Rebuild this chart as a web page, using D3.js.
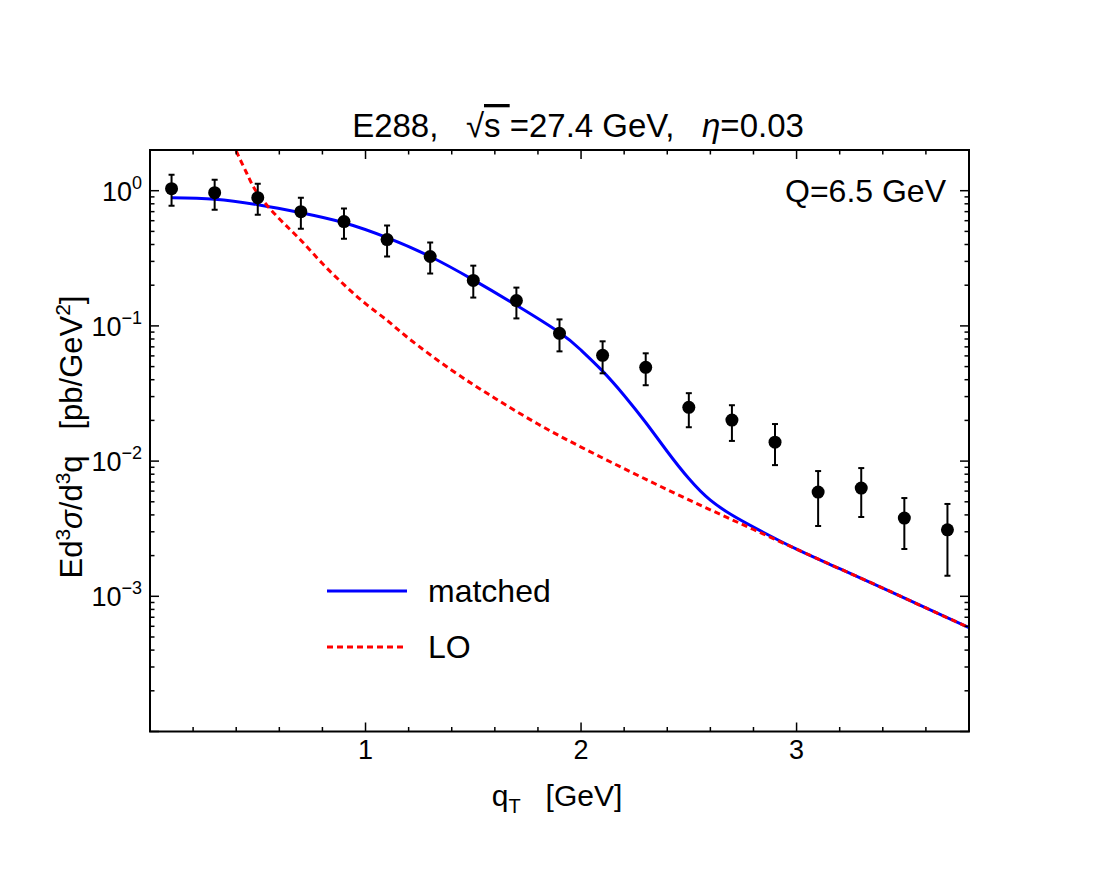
<!DOCTYPE html>
<html>
<head>
<meta charset="utf-8">
<script src="https://cdn.jsdelivr.net/npm/d3@7"></script>
<style>
  body { margin: 0; background: #fff; }
  svg text { font-family: "Liberation Sans", Arial, sans-serif; fill: #000; white-space: pre; }
</style>
</head>
<body>
<svg id="chart" width="1119" height="882"></svg>
<script>
// E288 data points
const qT = [0.1, 0.3, 0.5, 0.7, 0.9, 1.1, 1.3, 1.5, 1.7, 1.9, 2.1, 2.3, 2.5, 2.7, 2.9, 3.1, 3.3, 3.5, 3.7];
const sigma = [1.035, 0.967, 0.888, 0.700, 0.591, 0.435, 0.326, 0.217, 0.154, 0.0881, 0.0606, 0.0494, 0.0250, 0.0201, 0.0138, 0.0059, 0.00632, 0.00379, 0.0031];
const errHi = [1.31, 1.206, 1.126, 0.888, 0.737, 0.552, 0.413, 0.279, 0.192, 0.1117, 0.0769, 0.0627, 0.0318, 0.0259, 0.0188, 0.00844, 0.00888, 0.00533, 0.00482];
const errLo = [0.775, 0.724, 0.665, 0.524, 0.442, 0.326, 0.244, 0.162, 0.1136, 0.0648, 0.0446, 0.0364, 0.0178, 0.0141, 0.00934, 0.00331, 0.00386, 0.00224, 0.00142];

// matched curve
const matchedQ = [0.1, 0.3, 0.5, 0.7, 0.9, 1.1, 1.3, 1.5, 1.7, 1.9, 2.0, 2.1, 2.2, 2.3, 2.4, 2.5, 2.6, 2.7, 2.8, 3.0, 3.2, 3.4, 3.6, 3.8];
const matched = [0.888, 0.866, 0.788, 0.688, 0.580, 0.450, 0.326, 0.219, 0.142, 0.0893, 0.0662, 0.0463, 0.0306, 0.0193, 0.01178, 0.00743, 0.00514, 0.00399, 0.00325, 0.00223, 0.0016, 0.00115, 0.00082, 0.000587];

// LO curve
const loQ = [0.35, 0.4, 0.45, 0.5, 0.6, 0.7, 0.8, 0.9, 1.0, 1.1, 1.2, 1.4, 1.6, 1.8, 2.0, 2.2, 2.4, 2.6, 2.8, 3.0, 3.2, 3.4, 3.6, 3.8];
const lo = [3.18, 1.97, 1.335, 0.95, 0.62, 0.43, 0.289, 0.202, 0.146, 0.110, 0.0809, 0.047, 0.0292, 0.0188, 0.0127, 0.00879, 0.00615, 0.00436, 0.00312, 0.00223, 0.0016, 0.00115, 0.00082, 0.000587];

const yTickLabels = ['0', '\u22121', '\u22122', '\u22123'];
const xTicks = [1, 2, 3];

const svg = d3.select('#chart');
const mLeft = 150, mRight = 969, mTop = 150, mBottom = 731.5;

const x = d3.scaleLinear().domain([0, 3.8]).range([mLeft, mRight]);
const y = d3.scaleLog().domain([1e-4, 2]).range([mBottom, mTop]);

svg.append('defs').append('clipPath').attr('id', 'clip')
  .append('rect').attr('x', mLeft).attr('y', mTop).attr('width', mRight - mLeft).attr('height', mBottom - mTop);

let line = d3.line()
  .x(function (d) { return x(d[0]); })
  .y(function (d) { return y(d[1]); })
  .curve(d3.curveNatural);

let plot = svg.append('g').attr('clip-path', 'url(#clip)');

plot.append('path')
  .attr('d', line(d3.zip(matchedQ, matched)))
  .attr('fill', 'none').attr('stroke', '#0000ff').attr('stroke-width', 3);

plot.append('path')
  .attr('d', line(d3.zip(loQ, lo)))
  .attr('fill', 'none').attr('stroke', '#ff0000').attr('stroke-width', 3)
  .attr('stroke-dasharray', '6,4');

// error bars
let pts = plot.append('g');
qT.forEach(function (q, i) {
  pts.append('line').attr('x1', x(q)).attr('x2', x(q)).attr('y1', y(errHi[i])).attr('y2', y(errLo[i]))
    .attr('stroke', '#000').attr('stroke-width', 2);
  [errHi[i], errLo[i]].forEach(function (v) {
    pts.append('line').attr('x1', x(q) - 3).attr('x2', x(q) + 3).attr('y1', y(v)).attr('y2', y(v))
      .attr('stroke', '#000').attr('stroke-width', 2);
  });
  pts.append('circle').attr('cx', x(q)).attr('cy', y(sigma[i])).attr('r', 6.5).attr('fill', '#000');
});

// frame
svg.append('rect').attr('x', mLeft).attr('y', mTop).attr('width', mRight - mLeft).attr('height', mBottom - mTop)
  .attr('fill', 'none').attr('stroke', '#000').attr('stroke-width', 2);

// ticks (inward, all four sides)
let ticks = svg.append('g').attr('stroke', '#000').attr('stroke-width', 1.5);
d3.range(0.2, 3.8, 0.2).forEach(function (v) {
  let major = Math.abs(v - Math.round(v)) < 1e-6;
  let len = major ? 9 : 4.5;
  ticks.append('line').attr('x1', x(v)).attr('x2', x(v)).attr('y1', mBottom).attr('y2', mBottom - len);
  ticks.append('line').attr('x1', x(v)).attr('x2', x(v)).attr('y1', mTop).attr('y2', mTop + len);
});
y.ticks().forEach(function (v) {
  if (v >= 2) return;
  let major = Math.abs(Math.log10(v) - Math.round(Math.log10(v))) < 1e-6;
  let len = major ? 9 : 4.5;
  ticks.append('line').attr('x1', mLeft).attr('x2', mLeft + len).attr('y1', y(v)).attr('y2', y(v));
  ticks.append('line').attr('x1', mRight).attr('x2', mRight - len).attr('y1', y(v)).attr('y2', y(v));
});

// y tick labels
yTickLabels.forEach(function (s, i) {
  let t = svg.append('text').attr('x', mLeft - 8).attr('y', y(Math.pow(10, -i)) + 10)
    .attr('text-anchor', 'end').attr('font-size', 27);
  t.append('tspan').text('10');
  t.append('tspan').attr('dy', -12).attr('font-size', 18).text(s);
});

// x tick labels
xTicks.forEach(function (v) {
  svg.append('text').attr('x', x(v)).attr('y', 759).attr('text-anchor', 'middle')
    .attr('font-size', 27).text(v);
});

// title
let title = svg.append('text').attr('x', 578).attr('y', 137).attr('text-anchor', 'middle').attr('font-size', 33);
title.append('tspan').text('E288,   ');
title.append('tspan').text('\u221A');
title.append('tspan').style('text-decoration', 'overline').text('s ');
title.append('tspan').text('=27.4 GeV,   ');
title.append('tspan').attr('font-style', 'italic').text('\u03B7');
title.append('tspan').text('=0.03');

// Q label
svg.append('text').attr('x', 946).attr('y', 202).attr('text-anchor', 'end').attr('font-size', 32).text('Q=6.5 GeV');

// x axis label
let xl = svg.append('text').attr('x', 557).attr('y', 806).attr('text-anchor', 'middle').attr('font-size', 30);
xl.append('tspan').text('q');
xl.append('tspan').attr('dy', 7).attr('font-size', 20).text('T');
xl.append('tspan').attr('dy', -7).text('   [GeV]');

// y axis label
let yl = svg.append('text').attr('transform', 'translate(82,437) rotate(-90)').attr('text-anchor', 'middle').attr('font-size', 31);
yl.append('tspan').text('Ed');
yl.append('tspan').attr('dy', -12).attr('font-size', 21).text('3');
yl.append('tspan').attr('dy', 12).attr('font-style', 'italic').text('\u03C3');
yl.append('tspan').text('/d');
yl.append('tspan').attr('dy', -12).attr('font-size', 21).text('3');
yl.append('tspan').attr('dy', 12).text('q   [pb/GeV');
yl.append('tspan').attr('dy', -12).attr('font-size', 21).text('2');
yl.append('tspan').attr('dy', 12).text(']');

// legend
let legend = svg.append('g');
legend.append('line').attr('x1', 327).attr('x2', 407).attr('y1', 591).attr('y2', 591)
  .attr('stroke', '#0000ff').attr('stroke-width', 3);
legend.append('text').attr('x', 428).attr('y', 602).attr('font-size', 32).text('matched');
legend.append('line').attr('x1', 327).attr('x2', 405).attr('y1', 647).attr('y2', 647)
  .attr('stroke', '#ff0000').attr('stroke-width', 3).attr('stroke-dasharray', '6,4');
legend.append('text').attr('x', 428).attr('y', 658).attr('font-size', 32).text('LO');
</script>
</body>
</html>
